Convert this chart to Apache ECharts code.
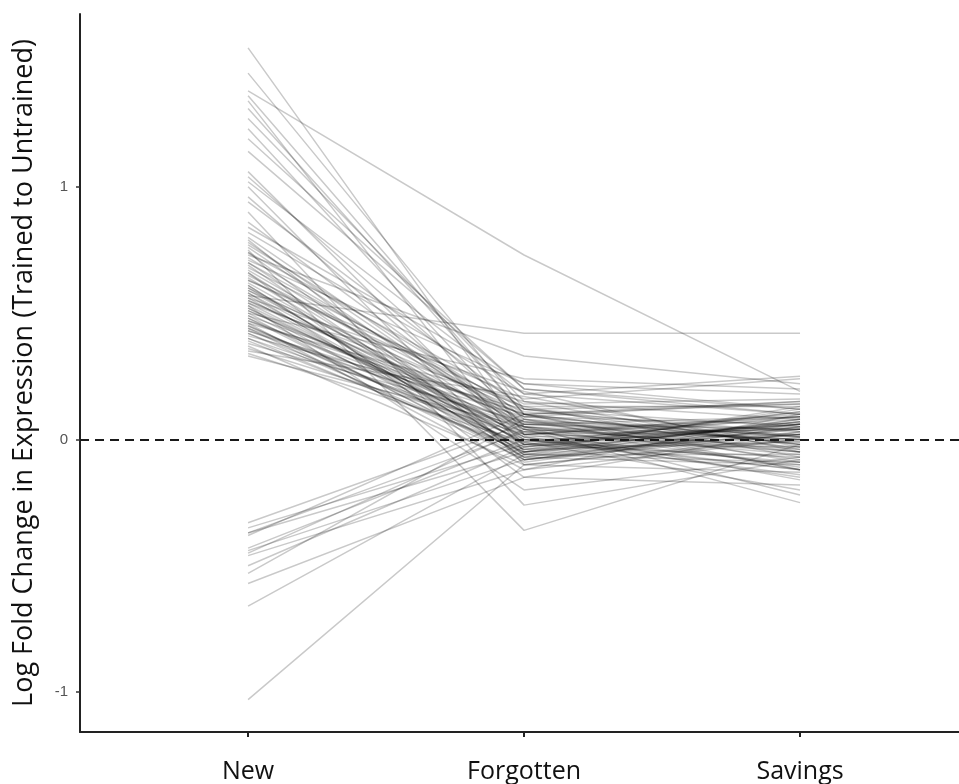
<!DOCTYPE html>
<html>
<head>
<meta charset="utf-8">
<script src="https://cdn.jsdelivr.net/npm/echarts@6/dist/echarts.min.js"></script>
<style>
html,body{margin:0;padding:0;background:#fff;}
#chart{width:959px;height:784px;}
</style>
</head>
<body>
<div id="chart"></div>
<script>
const categories = ['New', 'Forgotten', 'Savings'];
const yTicks = [-1, 0, 1];
const yTitle = 'Log Fold Change in Expression (Trained to Untrained)';

const newVals = [
  1.55, 1.45, 1.38, 1.36, 1.34, 1.31, 1.27, 1.23, 1.19, 1.14,
  1.06, 1.04, 1.02, 1.00, 0.96, 0.94, 0.90, 0.86, 0.84,
  0.82, 0.80, 0.79, 0.77, 0.76, 0.75, 0.74, 0.73, 0.72, 0.71,
  0.70, 0.69, 0.68, 0.67, 0.66, 0.65, 0.64, 0.63, 0.62, 0.61,
  0.60, 0.60, 0.59, 0.58, 0.58, 0.57, 0.56, 0.56, 0.55, 0.54,
  0.54, 0.53, 0.52, 0.52, 0.51, 0.50, 0.50, 0.49, 0.48, 0.48,
  0.47, 0.46, 0.46, 0.45, 0.44, 0.44, 0.43, 0.42, 0.42, 0.41,
  0.40, 0.39, 0.38, 0.37, 0.36, 0.35, 0.34, 0.33,
  0.78, 0.74, 0.70, 0.66, 0.63, 0.61, 0.59, 0.57, 0.55, 0.53,
  0.51, 0.49, 0.47, 0.45, 0.43, 0.40,
  -0.33, -0.35, -0.37, -0.37, -0.38, -0.43, -0.44, -0.45, -0.46, -0.50,
  -0.53, -0.57, -0.66, -1.03
];
const forgottenVals = [
  0.02, 0.12, 0.73, 0.10, -0.05, 0.10, 0.15, 0.05, 0.20, 0.20,
  -0.02, 0.08, 0.18, -0.10, 0.02, 0.12, -0.26, 0.06, 0.22,
  0.18, 0.05, -0.08, 0.10, 0.02, -0.36, 0.14, 0.33, 0.07, 0.22,
  0.00, -0.06, 0.12, 0.04, -0.15, 0.09, -0.02, 0.16, 0.01, -0.07,
  0.06, -0.04, 0.11, 0.00, -0.09, 0.42, 0.19, -0.05, 0.08, -0.01,
  0.13, -0.20, 0.02, -0.06, 0.05, 0.24, -0.03, 0.10, -0.07, 0.01,
  0.06, -0.12, 0.15, -0.02, 0.04, -0.08, 0.09, 0.00, -0.05, 0.12,
  0.03, -0.04, 0.07, -0.10, 0.02, 0.17, -0.01, 0.05,
  0.04, -0.06, 0.09, -0.02, 0.13, -0.07, 0.01, -0.04, 0.07, -0.01,
  0.03, -0.08, 0.10, -0.03, 0.05, -0.05,
  0.06, -0.02, 0.03, -0.05, 0.10, 0.00, -0.08, 0.04, -0.12, -0.03,
  0.08, -0.15, -0.06, -0.10
];
const savingsVals = [
  -0.10, 0.05, 0.19, 0.15, 0.02, 0.14, 0.08, -0.05, 0.12, 0.10,
  0.06, -0.12, 0.25, 0.00, 0.10, -0.02, -0.08, 0.04, 0.18,
  0.10, -0.04, 0.05, -0.12, 0.08, -0.02, 0.16, 0.22, -0.08, 0.12,
  0.02, -0.06, 0.14, 0.00, -0.18, 0.06, -0.03, 0.24, 0.04, -0.10,
  0.09, -0.01, 0.03, -0.14, 0.05, 0.42, -0.05, 0.07, 0.01, -0.20,
  0.13, -0.07, 0.04, 0.02, -0.11, 0.20, 0.06, -0.02, 0.08, -0.15,
  0.00, 0.10, -0.04, 0.05, -0.25, 0.03, 0.15, -0.09, 0.07, 0.01,
  -0.06, 0.12, 0.04, -0.13, 0.09, -0.03, 0.06, -0.22,
  -0.03, 0.08, 0.01, 0.11, -0.07, 0.04, -0.12, 0.06, -0.01, 0.09,
  -0.05, 0.02, -0.09, 0.07, 0.00, 0.13,
  0.02, -0.07, 0.09, 0.04, -0.02, -0.12, 0.06, -0.16, 0.00, 0.11,
  -0.05, 0.03, -0.09, 0.01
];

const series = newVals.map((v, i) => ({
  type: 'line',
  data: [[1, v], [2, forgottenVals[i]], [3, savingsVals[i]]],
  symbol: 'none',
  silent: true,
  lineStyle: { color: 'rgba(0,0,0,0.21)', width: 1.5 },
  z: 2
}));
series.push({
  type: 'line',
  data: [],
  silent: true,
  markLine: {
    symbol: 'none',
    silent: true,
    label: { show: false },
    lineStyle: { color: '#1a1a1a', type: [9, 6], width: 2 },
    data: [{ yAxis: 0 }]
  },
  z: 3
});

const chart = echarts.init(document.getElementById('chart'), null, { renderer: 'canvas' });
chart.setOption({
  animation: false,
  backgroundColor: '#fff',
  grid: { left: 80, right: 0, top: 14, bottom: 51, containLabel: false },
  xAxis: {
    type: 'value',
    min: 0.391, max: 3.576,
    splitLine: { show: false },
    axisLine: { show: true, onZero: false, lineStyle: { color: '#222', width: 2 } },
    axisTick: { show: true, customValues: [1, 2, 3], length: 5, lineStyle: { color: '#222', width: 2 } },
    axisLabel: {
      show: true, customValues: [1, 2, 3], margin: 27,
      formatter: v => categories[Math.round(v) - 1],
      color: '#111', fontFamily: 'Open Sans', fontSize: 25
    }
  },
  yAxis: {
    type: 'value',
    min: -1.158, max: 1.684,
    name: yTitle,
    nameLocation: 'middle',
    nameGap: 42,
    nameTextStyle: { color: '#111', fontFamily: 'Open Sans', fontSize: 27 },
    splitLine: { show: false },
    axisLine: { show: true, onZero: false, lineStyle: { color: '#222', width: 2 } },
    axisTick: { show: true, customValues: yTicks, length: 4, lineStyle: { color: '#333', width: 1.5 } },
    axisLabel: {
      show: true, customValues: yTicks, margin: 12,
      color: '#555', fontFamily: 'Liberation Sans', fontSize: 15
    }
  },
  series: series
});
</script>
</body>
</html>
